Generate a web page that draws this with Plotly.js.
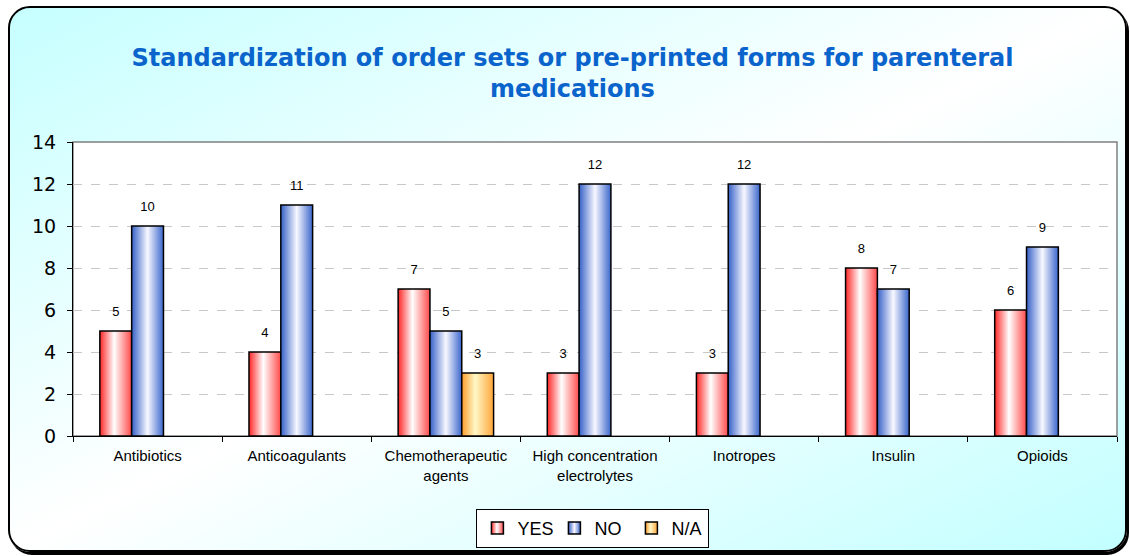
<!DOCTYPE html>
<html>
<head>
<meta charset="utf-8">
<script src="https://cdn.plot.ly/plotly-3.0.1.min.js"></script>
<style>
  html, body { margin:0; padding:0; width:1130px; height:556px; overflow:hidden; background:#ffffff; }
  #frame { position:absolute; left:8px; top:6px; width:1115px; height:542px;
    border:2px solid #000; border-radius:22px;
    box-shadow: 2px 3px 0 #000;
    background: linear-gradient(to bottom right, #c6ffff 0%, #ffffff 50%, #c2ffff 100%); }
  #chart { position:absolute; left:0; top:0; width:1130px; height:556px; }
</style>
</head>
<body>
<div id="frame"></div>
<div id="chart"></div>
<script>
const categories = ["Antibiotics", "Anticoagulants", "Chemotherapeutic<br>agents", "High concentration<br>electrolytes", "Inotropes", "Insulin", "Opioids"];
const yesValues = [5, 4, 7, 3, 3, 8, 6];
const noValues = [10, 11, 5, 12, 12, 7, 9];
const naValues = [null, null, 3, null, null, null, null];
const seriesNames = ["YES", "NO", "N/A"];
const yTicks = [0, 2, 4, 6, 8, 10, 12, 14];

const seriesValues = [yesValues, noValues, naValues];
const baseColors = ["#ff5a5a", "#5a7fd6", "#ffbb66"];
const GAP = 0.36;

const traces = [];
seriesValues.forEach((vals, i) => {
  traces.push({
    type: "bar", name: seriesNames[i], x: categories, y: vals,
    marker: { color: baseColors[i], line: { color: "#000000", width: 1.5 } },
    hoverinfo: "skip"
  });
});
seriesValues.forEach((vals, i) => {
  traces.push({
    type: "scatter", mode: "markers+text", x: categories, y: vals,
    text: vals.map(v => v === null ? "" : String(v)),
    textposition: "top center",
    textfont: { family: "Liberation Sans, Arial, sans-serif", size: 13, color: "#000000" },
    marker: { size: 18, opacity: 0 },
    showlegend: false, hoverinfo: "skip", cliponaxis: false
  });
});

const layout = {
  width: 1130, height: 556,
  paper_bgcolor: "rgba(0,0,0,0)", plot_bgcolor: "#ffffff",
  margin: { l: 73, r: 13, t: 142, b: 120, autoexpand: false },
  barmode: "group", bargap: GAP, bargroupgap: 0,
  scattermode: "group", scattergap: GAP,
  title: {
    text: "Standardization of order sets or pre-printed forms for parenteral<br>medications",
    font: { family: "DejaVu Sans, Verdana, sans-serif", size: 24, color: "#0a64cc", weight: "bold" },
    x: 0.5066, xanchor: "center", y: 0.881, yanchor: "top", yref: "container"
  },
  xaxis: {
    type: "category", showline: true, linecolor: "#000000", linewidth: 1,
    ticks: "outside", tickson: "boundaries", ticklen: 5, tickcolor: "#000000",
    ticklabelstandoff: 6,
    tickfont: { family: "Liberation Sans, Arial, sans-serif", size: 15, color: "#000000" },
    showgrid: false, zeroline: false
  },
  yaxis: {
    range: [0, 14], tickvals: yTicks, ticktext: yTicks.map(String),
    showline: true, linecolor: "#000000", linewidth: 1,
    ticks: "outside", ticklen: 5, tickcolor: "#000000",
    ticklabelstandoff: 7,
    tickfont: { family: "DejaVu Sans, Verdana, sans-serif", size: 19, color: "#000000" },
    showgrid: true, gridcolor: "#c8c8c8", griddash: "dash", gridwidth: 1, zeroline: false
  },
  shapes: [{ type: "rect", xref: "paper", yref: "paper", x0: 0, x1: 1, y0: 0, y1: 1,
    line: { color: "#808080", width: 1.5 }, layer: "below" }],
  showlegend: true,
  legend: {
    orientation: "h", x: 0.498, xanchor: "center", y: -0.248, yanchor: "top",
    bgcolor: "#ffffff", bordercolor: "#000000", borderwidth: 1,
    font: { family: "Liberation Sans, Arial, sans-serif", size: 18, color: "#000000" },
    itemwidth: 30, traceorder: "normal", entrywidth: 32, entrywidthmode: "pixels"
  }
};

const gradStops = [
  [[0, "#ff2626"], [0.45, "#ffffff"], [1, "#ff4a4a"]],
  [[0, "#3560c8"], [0.5, "#f8f8ff"], [1, "#3a66cc"]],
  [[0, "#ff9c2a"], [0.42, "#fff8c6"], [1, "#ffa63a"]]
];

function applyGradients(gd) {
  const svg = gd.querySelector("svg.main-svg");
  const ns = "http://www.w3.org/2000/svg";
  let defs = svg.querySelector("defs");
  if (!defs) { defs = document.createElementNS(ns, "defs"); svg.insertBefore(defs, svg.firstChild); }
  gradStops.forEach((stops, i) => {
    const g = document.createElementNS(ns, "linearGradient");
    g.setAttribute("id", "barGrad" + i);
    g.setAttribute("x1", "0"); g.setAttribute("x2", "1"); g.setAttribute("y1", "0"); g.setAttribute("y2", "0");
    stops.forEach(s => {
      const st = document.createElementNS(ns, "stop");
      st.setAttribute("offset", s[0]); st.setAttribute("stop-color", s[1]);
      g.appendChild(st);
    });
    defs.appendChild(g);
  });
  const barTraces = gd.querySelectorAll(".barlayer .trace");
  barTraces.forEach((t, i) => {
    t.querySelectorAll("path").forEach(p => { p.style.fill = "url(#barGrad" + i + ")"; });
  });
  const legTraces = gd.querySelectorAll(".legend .traces");
  legTraces.forEach((t, i) => {
    t.querySelectorAll(".legendpoints path").forEach(p => { p.style.fill = "url(#barGrad" + i + ")"; });
  });
}

const gd = document.getElementById("chart");
Plotly.newPlot(gd, traces, layout, { staticPlot: true, displayModeBar: false }).then(() => applyGradients(gd));
</script>
</body>
</html>
